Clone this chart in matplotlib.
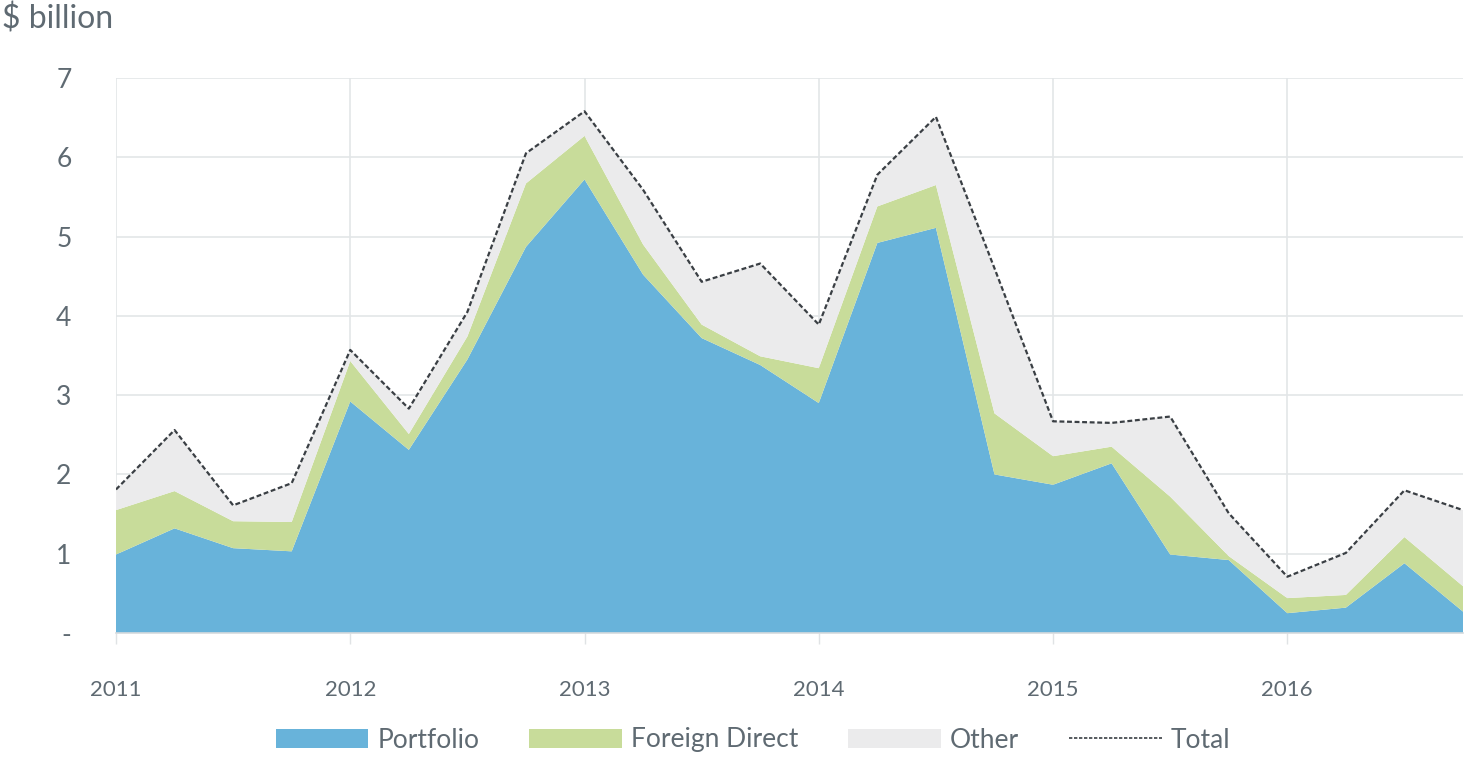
import matplotlib
matplotlib.use("Agg")
import matplotlib.pyplot as plt
import numpy as np
from matplotlib.patches import Patch
from matplotlib.lines import Line2D

plt.rcParams['font.family'] = ['Lato', 'DejaVu Sans']

# Quarterly data 2011Q1 - 2016Q4 ($ billion)
quarters = [2011 + i / 4 for i in range(24)]
portfolio = [0.99, 1.32, 1.07, 1.03, 2.92, 2.31, 3.45, 4.87, 5.72, 4.52, 3.72, 3.38,
             2.90, 4.92, 5.11, 2.00, 1.87, 2.14, 0.99, 0.92, 0.25, 0.32, 0.88, 0.27]
foreign_direct = [0.56, 0.47, 0.34, 0.37, 0.51, 0.20, 0.29, 0.80, 0.55, 0.38, 0.17, 0.11,
                  0.44, 0.46, 0.54, 0.77, 0.36, 0.21, 0.73, 0.05, 0.19, 0.16, 0.33, 0.32]
other = [0.26, 0.77, 0.20, 0.49, 0.14, 0.32, 0.31, 0.38, 0.31, 0.69, 0.54, 1.17,
         0.55, 0.40, 0.86, 1.83, 0.44, 0.30, 1.01, 0.54, 0.27, 0.53, 0.59, 0.96]
series_names = ["Portfolio", "Foreign Direct", "Other", "Total"]
year_ticks = [2011, 2012, 2013, 2014, 2015, 2016]
y_ticks = [0, 1, 2, 3, 4, 5, 6, 7]
y_ticklabels = ["-", "1", "2", "3", "4", "5", "6", "7"]

total = np.array(portfolio) + np.array(foreign_direct) + np.array(other)

c_blue = "#68b3da"
c_green = "#c8dc9a"
c_grey = "#ebebec"
c_text = "#5f6a72"
c_grid = "#e3e6e8"

fig = plt.figure(figsize=(14.65, 7.58), dpi=100)
ax = fig.add_axes([116 / 1465, 125 / 758, (1463 - 116) / 1465, (633 - 78) / 758])

ax.stackplot(quarters, portfolio, foreign_direct, other,
             colors=[c_blue, c_green, c_grey], linewidth=0, zorder=2)
ax.plot(quarters, total, color="#3a3f44", linewidth=1.6,
        linestyle=(0, (2.2, 1.2)), zorder=3)

ax.set_xlim(2011, 2016.75)
ax.set_ylim(0, 7)
ax.set_xticks(year_ticks)
ax.set_xticklabels([str(y) for y in year_ticks])
ax.set_yticks(y_ticks)
ax.set_yticklabels(y_ticklabels)

ax.grid(True, color=c_grid, linewidth=1.2, zorder=0)
ax.set_axisbelow(True)
for s in ["top", "right", "left"]:
    ax.spines[s].set_visible(False)
ax.spines["bottom"].set_color("#d6dadd")
ax.spines["bottom"].set_linewidth(1.2)

ax.tick_params(axis="x", colors=c_text, labelsize=16, length=8, width=1,
               color="#e0e3e5", pad=26)
ax.tick_params(axis="y", colors=c_text, labelsize=19, length=0, pad=32)
for lab in ax.get_xticklabels():
    lab.set_color(c_text)
for lab in ax.get_yticklabels():
    lab.set_color(c_text)

fig.text(2 / 1465, 1 - 19 / 758, "$ billion", fontsize=23, color=c_text,
         ha="left", va="center")

handles = [Patch(facecolor=c_blue, edgecolor="none"),
           Patch(facecolor=c_green, edgecolor="none"),
           Patch(facecolor=c_grey, edgecolor="none"),
           Line2D([0], [0], color="#3a3f44", linewidth=1.2, linestyle=(0, (2, 1)))]
leg = fig.legend(handles, series_names, loc="center", bbox_to_anchor=(753 / 1465, 1 - 740 / 758),
                 ncol=4, frameon=False, fontsize=19, handlelength=3.5, handleheight=0.75,
                 handletextpad=0.35, columnspacing=1.9)
for t in leg.get_texts():
    t.set_color(c_text)

fig.savefig("out.png", dpi=100)
